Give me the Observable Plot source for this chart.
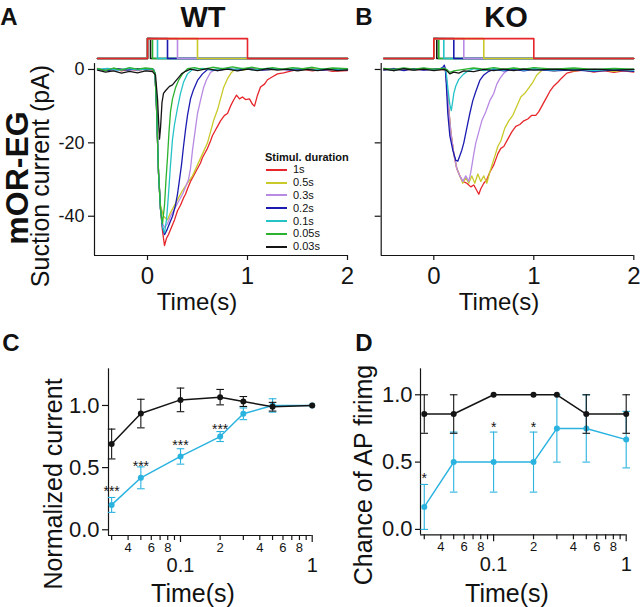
<!DOCTYPE html>
<html><head><meta charset="utf-8">
<script src="https://cdn.jsdelivr.net/npm/d3@7"></script>
<script src="https://cdn.jsdelivr.net/npm/@observablehq/plot@0.6"></script>
<style>
body{margin:0;background:#fff;}
#fig{position:relative;width:640px;height:607px;overflow:hidden;font-family:"Liberation Sans",Arial,Helvetica,sans-serif;color:#111;background:#fff;}
#fig svg{position:absolute;overflow:visible;background:transparent;}
</style></head><body><div id="fig"></div>
<script>
// ---------------- DATA ----------------
const durations = [1, 0.5, 0.3, 0.2, 0.1, 0.05, 0.03];
const durationLabels = ["1s", "0.5s", "0.3s", "0.2s", "0.1s", "0.05s", "0.03s"];
const recWindow = [-0.5, 2];           // recording window (s)
const pulseLevels = [3.0, 8.4];        // stimulus marker low/high (drawn in pA units)

// WT suction currents (t s, pA)
const wt_1 = [[-0.5,0.3],[-0.42,-0.3],[-0.34,0.2],[-0.26,-0.4],[-0.18,0.1],[-0.1,-0.3],[-0.02,0.2],[0.05,-0.2],[0.075,-1],[0.09,-10],[0.11,-28],[0.13,-38],[0.15,-44],[0.17,-48],[0.19,-46],[0.21,-45],[0.24,-43],[0.27,-41],[0.3,-38.5],[0.33,-37],[0.36,-35],[0.38,-34],[0.4,-32.5],[0.43,-30.5],[0.46,-29],[0.5,-27],[0.53,-25.5],[0.55,-24],[0.58,-22.5],[0.6,-21.5],[0.63,-19.5],[0.65,-18],[0.68,-16.5],[0.7,-15.5],[0.73,-14],[0.77,-12.5],[0.8,-12],[0.83,-10],[0.86,-8.4],[0.89,-7],[0.92,-8],[0.95,-7.5],[0.98,-8.2],[1.02,-8],[1.05,-9.5],[1.07,-10],[1.1,-7],[1.13,-4.8],[1.17,-4],[1.2,-2.8],[1.25,-2],[1.3,-1.2],[1.36,-0.9],[1.45,-0.3],[1.55,0],[1.65,-0.4],[1.75,0],[1.85,-0.5],[2.0,-0.3]];
const wt_05 = [[-0.5,0.1],[-0.4,-0.2],[-0.3,0.2],[-0.2,-0.1],[-0.1,0.2],[0,-0.1],[0.06,0],[0.075,-1],[0.09,-10],[0.11,-28],[0.13,-37],[0.16,-40],[0.2,-41],[0.23,-39],[0.27,-37],[0.31,-35],[0.35,-33],[0.4,-31],[0.45,-29],[0.5,-26],[0.55,-23],[0.6,-20],[0.63,-17],[0.66,-14],[0.7,-11],[0.73,-8],[0.76,-5],[0.8,-2.5],[0.84,-0.8],[0.88,0.2],[0.95,-0.2],[1.05,0.3],[1.2,-0.1],[1.35,0.2],[1.5,-0.2],[1.65,0.2],[1.8,-0.1],[2.0,0.1]];
const wt_03 = [[-0.5,-0.1],[-0.4,0.2],[-0.3,-0.3],[-0.2,0.1],[-0.1,-0.2],[0,0.1],[0.06,0],[0.075,-1],[0.09,-10],[0.11,-28],[0.13,-38],[0.15,-42],[0.17,-43],[0.2,-42],[0.23,-40],[0.27,-38],[0.31,-36],[0.35,-34],[0.38,-32],[0.41,-30],[0.43,-27],[0.45,-22],[0.48,-16],[0.5,-12],[0.53,-8.4],[0.56,-5],[0.59,-2.8],[0.63,-0.8],[0.68,0],[0.8,0.2],[0.9,-0.2],[1.0,0.2],[1.15,-0.1],[1.3,0.2],[1.45,-0.2],[1.6,0.1],[1.75,-0.2],[1.9,0.1],[2.0,0]];
const wt_02 = [[-0.5,0.1],[-0.4,-0.3],[-0.3,0.2],[-0.2,-0.2],[-0.1,0.2],[0,-0.1],[0.06,0],[0.075,-1],[0.09,-10],[0.11,-28],[0.13,-38],[0.15,-43],[0.17,-45],[0.19,-44],[0.22,-42],[0.25,-40],[0.28,-37],[0.3,-34],[0.32,-30],[0.34,-26],[0.36,-21],[0.38,-16.5],[0.4,-12.5],[0.43,-8],[0.46,-5.5],[0.5,-3],[0.55,-1.2],[0.6,0],[0.7,-0.3],[0.8,0.2],[0.9,-0.2],[1.0,0.2],[1.15,-0.2],[1.3,0.1],[1.45,-0.2],[1.6,0.1],[1.75,-0.2],[1.9,0.1],[2.0,-0.1]];
const wt_01 = [[-0.5,0],[-0.4,0.3],[-0.3,-0.2],[-0.2,0.3],[-0.1,-0.1],[0,0.2],[0.06,0],[0.075,-1],[0.09,-10],[0.11,-28],[0.13,-38],[0.15,-43],[0.17,-44.5],[0.19,-41],[0.21,-34],[0.23,-26],[0.25,-19],[0.27,-15],[0.3,-10.5],[0.33,-6.5],[0.36,-3.5],[0.4,-1.2],[0.45,0],[0.55,0.3],[0.65,-0.1],[0.75,0.3],[0.85,0],[0.95,0.3],[1.05,-0.1],[1.2,0.3],[1.35,0],[1.5,0.3],[1.65,-0.1],[1.8,0.2],[2.0,0]];
const wt_005 = [[-0.5,0.2],[-0.42,-0.3],[-0.34,0.4],[-0.26,-0.2],[-0.18,0.5],[-0.1,0.1],[-0.02,0.4],[0.05,0.2],[0.075,-1],[0.09,-10],[0.11,-28],[0.13,-38],[0.15,-42],[0.17,-37],[0.185,-30],[0.2,-24],[0.215,-17],[0.23,-11.5],[0.25,-8],[0.28,-5],[0.31,-3],[0.35,-1.2],[0.4,0.2],[0.47,0.5],[0.55,0],[0.65,0.6],[0.75,0.2],[0.85,0.7],[0.95,0.2],[1.05,0.6],[1.15,0.1],[1.25,0.5],[1.35,0.1],[1.45,0.5],[1.55,0.2],[1.65,0.6],[1.75,0.1],[1.85,0.4],[2.0,0.2]];
const wt_003 = [[-0.5,-0.2],[-0.42,-0.7],[-0.34,-0.4],[-0.26,-1.0],[-0.18,-0.5],[-0.1,-0.9],[-0.02,-0.4],[0.05,-0.6],[0.08,-1.5],[0.1,-8],[0.12,-19],[0.13,-16],[0.145,-9],[0.16,-6.5],[0.18,-5.8],[0.2,-5.2],[0.22,-4.6],[0.25,-4.2],[0.28,-3.2],[0.31,-2.2],[0.34,-1.2],[0.38,-0.5],[0.43,0.1],[0.5,-0.3],[0.6,0.2],[0.7,-0.3],[0.8,0.1],[0.9,-0.4],[1.0,0.1],[1.1,-0.3],[1.2,0.2],[1.3,-0.2],[1.4,0.1],[1.5,-0.4],[1.6,0],[1.7,-0.3],[1.8,0.1],[1.9,-0.3],[2.0,-0.1]];

// KO suction currents (t s, pA)
const ko_1 = [[-0.5,0.2],[-0.4,-0.3],[-0.3,0.2],[-0.2,-0.2],[-0.1,0.2],[0,-0.1],[0.1,0],[0.12,-0.5],[0.14,-8],[0.17,-17],[0.2,-23],[0.23,-27],[0.26,-29],[0.29,-30.5],[0.33,-31],[0.37,-32],[0.4,-31.5],[0.43,-33],[0.45,-34],[0.47,-32.5],[0.5,-31],[0.53,-30],[0.56,-28],[0.6,-26],[0.64,-23],[0.67,-21.5],[0.7,-21],[0.74,-19],[0.78,-17],[0.82,-15.5],[0.86,-15],[0.9,-14],[0.94,-13.5],[0.98,-12.5],[1.02,-12.5],[1.05,-11.5],[1.08,-10],[1.12,-8],[1.16,-6],[1.2,-4.5],[1.24,-3.5],[1.28,-2.3],[1.33,-1],[1.4,-0.5],[1.5,-0.2],[1.6,-0.7],[1.7,-0.3],[1.8,-0.8],[1.9,-0.4],[2.0,-0.7]];
const ko_05 = [[-0.5,-0.1],[-0.4,0.2],[-0.3,-0.2],[-0.2,0.2],[-0.1,-0.1],[0,0.1],[0.1,0],[0.12,-0.5],[0.14,-8],[0.17,-17],[0.2,-23],[0.23,-27],[0.26,-29],[0.29,-31],[0.32,-29.5],[0.35,-31],[0.38,-29],[0.41,-31],[0.44,-28.5],[0.47,-30.5],[0.5,-29],[0.53,-31],[0.56,-28],[0.6,-24.5],[0.64,-21],[0.67,-19.5],[0.71,-16],[0.75,-14],[0.79,-12.5],[0.83,-10],[0.87,-7.5],[0.91,-6.5],[0.95,-5],[0.99,-3.5],[1.03,-1.5],[1.07,-0.5],[1.1,0],[1.2,-0.4],[1.3,0],[1.4,-0.4],[1.5,0],[1.6,-0.5],[1.7,-0.1],[1.8,-0.5],[1.9,-0.2],[2.0,-0.5]];
const ko_03 = [[-0.5,0],[-0.4,0.3],[-0.3,-0.1],[-0.2,0.2],[-0.1,-0.2],[0,0.1],[0.1,0],[0.12,-0.5],[0.14,-8],[0.17,-17],[0.2,-23],[0.23,-27],[0.26,-29],[0.29,-30.5],[0.32,-29],[0.35,-30.5],[0.37,-28],[0.4,-23],[0.42,-20],[0.45,-17],[0.48,-14],[0.52,-11.5],[0.56,-8.5],[0.6,-6.5],[0.63,-4],[0.66,-2.5],[0.7,-1],[0.75,0],[0.9,0.2],[1.1,-0.1],[1.3,0.2],[1.5,-0.1],[1.7,0.1],[2.0,0]];
const ko_02 = [[-0.5,-0.2],[-0.4,0.2],[-0.3,-0.3],[-0.2,0.2],[-0.1,-0.2],[0,0.1],[0.07,0.3],[0.09,0.6],[0.105,1.2],[0.115,0.3],[0.125,-4],[0.14,-12],[0.16,-18],[0.19,-22],[0.22,-24.8],[0.24,-25],[0.26,-23.5],[0.28,-22],[0.3,-20],[0.33,-16],[0.36,-12],[0.39,-8.5],[0.42,-6],[0.46,-3],[0.5,-1.5],[0.55,-0.5],[0.6,0],[0.7,-0.4],[0.8,0],[0.9,-0.4],[1.0,0],[1.2,-0.4],[1.4,-0.1],[1.6,-0.5],[1.8,-0.2],[2.0,-0.5]];
const ko_01 = [[-0.5,0.2],[-0.4,-0.3],[-0.3,0.3],[-0.2,-0.2],[-0.1,0.3],[0,-0.2],[0.08,0.3],[0.11,0.2],[0.125,-1],[0.14,-5],[0.16,-9.5],[0.175,-11.2],[0.19,-8.5],[0.2,-6.5],[0.22,-4.5],[0.25,-2.7],[0.3,-1.2],[0.35,-0.3],[0.4,0.2],[0.5,-0.3],[0.6,0.2],[0.7,-0.2],[0.8,0.3],[0.9,-0.2],[1.0,0.2],[1.2,-0.2],[1.4,0.2],[1.6,-0.3],[1.8,0.1],[2.0,-0.2]];
const ko_005 = [[-0.5,0.3],[-0.4,0],[-0.3,0.4],[-0.2,0.1],[-0.1,0.4],[0,0.1],[0.1,0.3],[0.13,0],[0.16,-0.8],[0.2,-0.4],[0.3,0],[0.4,0.4],[0.5,0.1],[0.6,0.5],[0.7,0.1],[0.8,0.4],[0.9,0.1],[1.0,0.5],[1.2,0.1],[1.4,0.4],[1.6,0],[1.8,0.3],[2.0,0.1]];
const ko_003 = [[-0.5,0.1],[-0.4,-0.3],[-0.3,0.2],[-0.2,-0.2],[-0.1,0.1],[0,-0.3],[0.1,0],[0.13,-0.3],[0.16,-1.2],[0.2,-0.7],[0.25,-1],[0.3,-0.4],[0.4,-0.6],[0.5,0],[0.6,-0.3],[0.7,0.1],[0.8,-0.3],[0.9,0.1],[1.0,-0.2],[1.2,0.1],[1.4,-0.2],[1.6,0.1],[1.8,-0.2],[2.0,0]];

const wtTraces = [wt_1, wt_05, wt_03, wt_02, wt_01, wt_005, wt_003];
const koTraces = [ko_1, ko_05, ko_03, ko_02, ko_01, ko_005, ko_003];

// Dose-response (C, D)
const stimDur = [0.03, 0.05, 0.1, 0.2, 0.3, 0.5, 1];
const wtCurrent = [0.69, 0.935, 1.045, 1.067, 1.032, 0.99, 1.0];
const wtCurrentSem = [0.12, 0.115, 0.095, 0.062, 0.04, 0.035, 0];
const koCurrent = [0.20, 0.418, 0.59, 0.75, 0.933, 1.0, 1.0];
const koCurrentSem = [0.06, 0.088, 0.062, 0.04, 0.047, 0.054, 0];
const starsCDur = [0.03, 0.05, 0.1, 0.2];
const starsCY = [0.335, 0.53, 0.70, 0.83];

const wtAP = [0.857, 0.857, 1.0, 1.0, 1.0, 0.857, 0.857];
const wtAPErr = [0.143, 0.143, 0, 0, 0, 0.143, 0.143];
const koAP = [0.167, 0.5, 0.5, 0.5, 0.75, 0.75, 0.667];
const koAPErr = [0.167, 0.223, 0.223, 0.223, 0.25, 0.25, 0.21];
const starsDDur = [0.03, 0.1, 0.2];
const starsDY = [0.40, 0.78, 0.78];

const minorTicks = [0.03, 0.04, 0.05, 0.06, 0.07, 0.08, 0.09, 0.2, 0.3, 0.4, 0.5, 0.6, 0.7, 0.8, 0.9];
const minorTickLabels = ["", "4", "", "6", "", "8", "", "2", "", "4", "", "6", "", "8", ""];
const majorTicks = [0.1, 1];
const majorTickLabels = ["0.1", "1"];

// ---------------- STYLE ----------------
const traceColors = ["#e6262b", "#c9c92a", "#b98ae4", "#1b1bb0", "#25c2c6", "#2bb22f", "#151515"];
const koBlue = "#2bb3e0";
const dark = "#141414";
const font = '"Liberation Sans", Arial, Helvetica, sans-serif';

const fig = document.getElementById("fig");
function place(svg, left, top) {
  svg.style.left = left + "px"; svg.style.top = top + "px";
  fig.appendChild(svg);
}
function label(txt, x, y, size, bold, rotate) {
  const el = document.createElement("div");
  el.textContent = txt;
  el.style.cssText = `position:absolute;left:${x}px;top:${y}px;font-size:${size}px;font-weight:${bold ? "bold" : "normal"};line-height:1;white-space:nowrap;transform:translate(-50%,-50%)${rotate ? " rotate(-90deg)" : ""};`;
  fig.appendChild(el);
}

// ---------------- TRACE PANELS (A, B) ----------------
function tracePanel(traces, opt) {
  const x0 = opt.xDomain[0];
  const marks = [];
  // stimulus markers: shortest first so longer ones sit on top
  durations.map((d, i) => ({d, i})).reverse().forEach(({d, i}) => {
    const pulse = [[recWindow[0], pulseLevels[0]], [0, pulseLevels[0]], [0, pulseLevels[1]], [d, pulseLevels[1]], [d, pulseLevels[0]], [recWindow[1], pulseLevels[0]]];
    marks.push(Plot.line(pulse, {x: p => p[0], y: p => p[1], stroke: traceColors[i], strokeWidth: 1.6}));
  });
  // traces: longest first so short ones are on top
  traces.forEach((tr, i) => {
    marks.push(Plot.line(tr, {x: p => p[0], y: p => p[1], stroke: traceColors[i], strokeWidth: 1.3}));
  });
  marks.push(
    Plot.ruleX([x0], {y1: opt.yDomain[0], y2: 1.6, stroke: dark, strokeWidth: 1.2}),
    Plot.ruleY([opt.yDomain[0]], {stroke: dark, strokeWidth: 1.2}),
    Plot.axisY({ticks: [0, -20, -40], tickSize: 6, tickPadding: 4, fontSize: 18, stroke: dark, strokeWidth: 1.2,
      tickFormat: opt.yLabels ? (d => String(d)) : (() => "")}),
    Plot.axisX({ticks: [0, 1, 2], tickSize: 5, tickPadding: 6, fontSize: 24, stroke: dark, strokeWidth: 1.2, tickFormat: d => String(d), label: null})
  );
  return Plot.plot({
    width: opt.width, height: 300,
    marginLeft: opt.marginLeft, marginRight: opt.marginRight, marginTop: 38, marginBottom: 45,
    x: {domain: opt.xDomain},
    y: {domain: opt.yDomain},
    style: {fontFamily: font, color: dark, background: "transparent", overflow: "visible"},
    marks
  });
}

place(tracePanel(wtTraces, {width: 360, marginLeft: 94, marginRight: 13, xDomain: [-0.53, 2.0], yDomain: [-50.7, 8.44], yLabels: true}), 0, 0);
place(tracePanel(koTraces, {width: 320, marginLeft: 60.7, marginRight: 6.7, xDomain: [-0.526, 2.0], yDomain: [-50.7, 8.44], yLabels: false}), 320, 0);

// legend (panel A)
const leg = document.createElement("div");
leg.style.cssText = "position:absolute;left:265px;top:150.6px;font-size:11px;line-height:12.8px;";
const legTitle = document.createElement("div");
legTitle.style.fontWeight = "bold"; legTitle.textContent = "Stimul. duration";
leg.appendChild(legTitle);
durationLabels.forEach((lab, i) => {
  const row = document.createElement("div");
  row.style.cssText = "display:flex;align-items:center;height:12.8px;";
  const sw = document.createElement("span");
  sw.style.cssText = `display:inline-block;width:21px;height:0;border-top:2px solid ${traceColors[i]};margin-left:1px;margin-right:6px;`;
  const tx = document.createElement("span"); tx.textContent = lab;
  row.appendChild(sw); row.appendChild(tx);
  leg.appendChild(row);
});
fig.appendChild(leg);

// ---------------- DOSE PANELS (C, D) ----------------
const capSymbol = {draw(ctx, size) { const r = Math.sqrt(size / Math.PI); ctx.moveTo(-r, 0); ctx.lineTo(r, 0); }};
const minorRows = minorTicks.map((d, i) => ({d, t: minorTickLabels[i]})).filter(r => r.t !== "");
const majorRows = majorTicks.map((d, i) => ({d, t: majorTickLabels[i]}));
function dosePanel(series, opt) {
  const marks = [
    Plot.ruleX([opt.xDomain[0]], {stroke: dark, strokeWidth: 1.2}),
    Plot.ruleY([opt.yDomain[0]], {stroke: dark, strokeWidth: 1.2}),
    Plot.axisY({ticks: [0, 0.5, 1], tickSize: opt.yTickSize, tickPadding: 3, fontSize: 22, stroke: dark, strokeWidth: 1.2, tickFormat: d3.format(".1f"), label: null}),
    Plot.axisX({ticks: minorTicks, tickSize: 5, stroke: dark, strokeWidth: 1.2, tickFormat: () => "", label: null}),
    Plot.axisX({ticks: majorTicks, tickSize: 7, stroke: dark, strokeWidth: 1.2, tickFormat: () => "", label: null}),
    Plot.text(minorRows, {x: "d", text: "t", frameAnchor: "bottom", lineAnchor: "top", dy: 7, fontSize: 13, fill: dark}),
    Plot.text(majorRows, {x: "d", text: "t", frameAnchor: "bottom", lineAnchor: "top", dy: 22, fontSize: 20, fill: dark})
  ];
  series.forEach(s => {
    const rows = stimDur.map((d, i) => ({d, m: s.mean[i], e: s.err[i]}));
    const eb = rows.filter(r => r.e > 0);
    const caps = eb.flatMap(r => [{d: r.d, y: r.m - r.e}, {d: r.d, y: r.m + r.e}]);
    marks.push(
      Plot.ruleX(eb, {x: "d", y1: r => r.m - r.e, y2: r => r.m + r.e, stroke: s.color, strokeWidth: 1.1}),
      Plot.dot(caps, {x: "d", y: "y", symbol: capSymbol, r: 3.8, stroke: s.color, strokeWidth: 1.1}),
      Plot.line(rows, {x: "d", y: "m", stroke: s.color, strokeWidth: 1.5}),
      Plot.dot(rows, {x: "d", y: "m", r: 3, fill: s.color, stroke: "none"})
    );
  });
  marks.push(Plot.text(opt.starX, {x: d => d, y: (d, i) => opt.starY[i], text: () => opt.star, fontSize: 14, fill: dark, dy: 3}));
  return Plot.plot({
    width: 320, height: 307,
    marginLeft: opt.marginLeft, marginRight: opt.marginRight, marginTop: 68.3, marginBottom: opt.marginBottom,
    x: {type: "log", domain: opt.xDomain},
    y: {domain: opt.yDomain},
    style: {fontFamily: font, color: dark, background: "transparent", overflow: "visible"},
    marks
  });
}

place(dosePanel([
  {mean: koCurrent, err: koCurrentSem, color: koBlue},
  {mean: wtCurrent, err: wtCurrentSem, color: dark}
], {marginLeft: 108, marginRight: 8.3, marginBottom: 72, xDomain: [0.0284, 1], yDomain: [-0.046, 1.295], yTickSize: 6,
    starX: starsCDur, starY: starsCY, star: "***"}), 0, 300);

place(dosePanel([
  {mean: koAP, err: koAPErr, color: koBlue},
  {mean: wtAP, err: wtAPErr, color: dark}
], {marginLeft: 100, marginRight: 14.3, marginBottom: 72.7, xDomain: [0.0281, 1], yDomain: [-0.04, 1.193], yTickSize: 5,
    starX: starsDDur, starY: starsDY, star: "*"}), 320, 300);

// ---------------- TEXT ----------------
label("A", 9, 17, 24, true);
label("WT", 203, 17, 29, true);
label("B", 364, 17, 24, true);
label("KO", 506, 17, 29, true);
label("C", 11, 343, 24, true);
label("D", 364, 343, 24, true);
label("mOR-EG", 17, 178, 32, true, true);
label("Suction current (pA)", 40, 176, 25, false, true);
label("Time(s)", 197, 302, 24, false);
label("Time(s)", 499, 302, 24, false);
label("Normalized current", 53, 484, 25, false, true);
label("Chance of AP firimg", 363, 475, 25, false, true);
label("Time(s)", 193, 593, 25, false);
label("Time(s)", 507, 593, 25, false);
</script></body></html>
